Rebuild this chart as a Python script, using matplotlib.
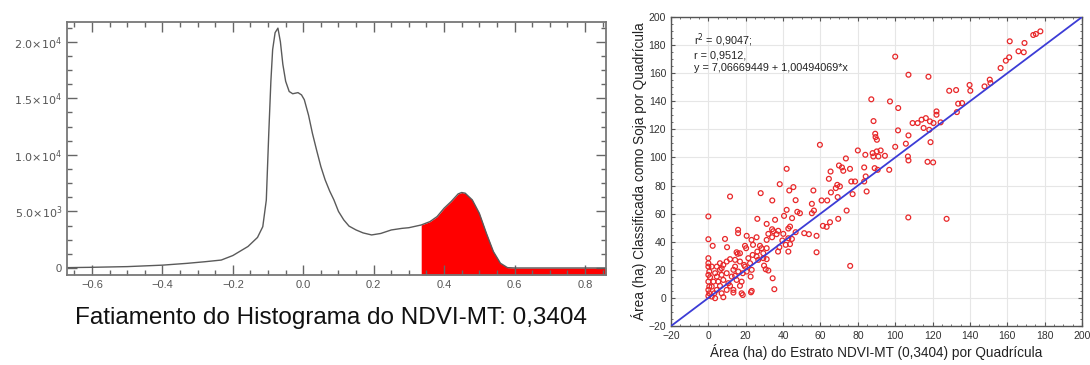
import numpy as np
import matplotlib
matplotlib.use("Agg")
import matplotlib.pyplot as plt
from matplotlib.ticker import MultipleLocator

plt.rcParams['font.family'] = ['Liberation Sans', 'DejaVu Sans']

# histogram of NDVI-MT
hist_x = [-0.67, -0.6, -0.5, -0.4, -0.33, -0.28, -0.233, -0.2, -0.157, -0.13,
          -0.115, -0.105, -0.098, -0.092, -0.087, -0.08, -0.072, -0.065, -0.058, -0.05,
          -0.04, -0.03, -0.015, -0.005, 0.003, 0.015, 0.026, 0.038, 0.05, 0.062,
          0.075, 0.087, 0.1, 0.115, 0.13, 0.15, 0.17, 0.194, 0.22, 0.25,
          0.28, 0.3, 0.335, 0.36, 0.38, 0.4, 0.42, 0.44, 0.45, 0.46,
          0.48, 0.5, 0.52, 0.54, 0.56, 0.58, 0.6, 0.7, 0.8, 0.86]
hist_counts = [30, 60, 120, 250, 410, 550, 700, 1100, 1900, 2700,
               3650, 6000, 11900, 16500, 19300, 20800, 21200, 20000, 18000, 16500,
               15600, 15400, 15500, 15300, 14870, 13500, 11900, 10400, 8960, 7800,
               6800, 6020, 5000, 4250, 3700, 3360, 3100, 2920, 3050, 3360,
               3500, 3560, 3800, 4100, 4540, 5280, 5870, 6550, 6670, 6610,
               6020, 4840, 3080, 1450, 420, 30, 0, 0, 0, 0]
threshold = 0.335
hist_xticks = [-0.6, -0.4, -0.2, 0.0, 0.2, 0.4, 0.6, 0.8]
hist_yticks = [0, 5000, 10000, 15000, 20000]
hist_ylabels = ['0', r'$5.0{\times}10^3$', r'$1.0{\times}10^4$', r'$1.5{\times}10^4$', r'$2.0{\times}10^4$']

# scatter: area stratum (x) vs area classified as soy (y)
area_x = [177.7, 175.3, 173.9, 169.2, 161.3, 166.0, 168.8, 161.0, 159.2, 156.4,
          100.0, 107.1, 117.8, 139.8, 140.2, 150.6, 151.0, 147.8, 132.6, 128.9,
          133.7, 135.8, 133.0, 87.2, 97.2, 101.6, 122.1, 122.1, 116.4, 114.1,
          112.0, 109.3, 118.6, 120.5, 124.3, 115.2, 118.2, 88.4, 101.5, 107.1,
          89.3, 89.5, 90.2, 59.7, 80.0, 100.0, 105.7, 118.9, 87.9, 90.1,
          92.2, 88.3, 91.0, 94.5, 106.8, 107.1, 117.3, 120.3, 84.0, 73.6,
          69.9, 71.5, 75.8, 72.2, 89.0, 90.6, 96.8, 41.9, 83.4, 84.2,
          65.4, 64.5, 76.5, 78.5, 83.4, 69.0, 70.4, 68.2, 84.7, 65.6,
          56.2, 69.2, 77.2, 45.5, 43.3, 38.2, 28.0, 11.6, 34.2, 46.7,
          60.6, 63.6, 55.4, 56.5, 55.4, 47.6, 49.0, 41.9, 40.5, 44.8,
          74.0, 107.0, 127.5, 69.5, 65.1, 61.3, 63.3, 57.9, 53.8, 51.3,
          46.7, 40.1, 26.2, 35.7, 31.2, 34.1, 34.8, 37.4, 43.7, 42.8,
          36.5, 32.1, 34.1, 39.6, 42.8, 44.7, 41.4, 43.7, 38.0, 42.8,
          37.3, 31.2, 31.2, 57.9, 75.9, 34.4, 35.3, 0.0, 0.0, 2.3,
          8.9, 10.0, 15.9, 15.9, 20.5, 25.8, 23.1, 23.9, 19.6, 20.2,
          15.1, 16.9, 27.6, 28.5, 26.2, 29.4, 23.7, 25.8, 21.4, 29.4,
          26.7, 31.2, 29.8, 30.7, 32.1, 22.3, 19.6, 23.2, 22.6, 16.9,
          14.3, 11.6, 9.8, 6.2, 0.0, 0.0, 0.0, 0.5, 0.0, 0.9,
          0.0, 0.5, 0.0, 0.5, 0.0, 1.8, 3.2, 3.6, 4.5, 6.2,
          7.1, 8.0, 5.3, 6.2, 4.5, 7.1, 8.0, 3.6, 9.8, 10.7,
          12.5, 14.3, 16.0, 16.9, 17.8, 13.4, 13.4, 17.8, 18.4, 23.2,
          22.8, 11.6, 9.8, 7.1, 8.0, 13.4, 18.4, 20.5, 1.8, 2.7,
          1.8, 4.5, 15.1, 19.1, 14.3, 15.7]
area_y = [189.8, 187.9, 187.2, 181.5, 182.7, 175.6, 174.9, 171.3, 168.9, 163.7,
          171.8, 158.9, 157.5, 151.6, 147.5, 155.4, 153.0, 150.6, 148.0, 147.5,
          138.3, 138.7, 132.3, 141.4, 139.9, 135.2, 132.8, 130.4, 128.0, 126.9,
          124.5, 124.5, 125.7, 124.5, 125.0, 121.0, 119.7, 125.9, 119.3, 115.7,
          116.9, 114.5, 112.6, 109.0, 105.0, 107.6, 109.8, 110.9, 103.1, 104.3,
          105.0, 100.7, 100.7, 101.2, 100.7, 97.9, 96.9, 96.5, 101.9, 99.3,
          94.3, 92.9, 91.9, 90.5, 92.4, 91.2, 91.2, 91.9, 92.9, 86.5,
          90.0, 84.8, 82.9, 82.9, 82.9, 80.5, 79.4, 78.2, 75.8, 75.1,
          76.5, 71.8, 73.9, 78.9, 76.5, 81.0, 74.6, 72.2, 69.4, 69.6,
          69.4, 69.4, 67.0, 62.2, 60.3, 61.3, 60.3, 62.7, 58.4, 56.8,
          62.2, 57.3, 56.3, 56.3, 53.9, 51.3, 50.6, 44.2, 45.4, 46.1,
          46.8, 45.6, 56.3, 55.6, 52.7, 48.9, 47.5, 47.8, 50.8, 49.4,
          45.4, 45.6, 43.2, 40.9, 42.5, 42.0, 37.8, 38.3, 36.1, 33.0,
          33.0, 41.3, 35.4, 32.5, 22.8, 14.0, 6.2, 58.0, 41.8, 37.1,
          42.0, 36.1, 48.5, 46.1, 44.2, 43.2, 41.3, 37.8, 37.1, 35.4,
          32.5, 31.8, 37.1, 35.4, 33.0, 31.8, 30.6, 29.5, 28.3, 28.3,
          27.1, 27.6, 23.0, 20.4, 19.5, 24.7, 22.3, 20.0, 15.2, 25.9,
          27.1, 27.6, 25.9, 24.7, 28.3, 24.7, 22.3, 18.8, 16.4, 14.7,
          11.6, 8.1, 5.7, 3.3, 1.4, 1.0, 3.3, 17.6, 22.3, 20.0,
          16.4, 12.8, 11.6, 8.6, 5.7, 3.3, 0.5, -0.2, 5.7, 10.5,
          15.2, 15.7, 18.8, 8.6, 11.6, 5.7, 3.8, 3.3, 2.1, 5.0,
          4.0, 8.6, 17.6, 21.1, 23.5, 20.0, 17.6, 18.8, 22.3, 11.6,
          8.1, 15.2, 12.8, 23.5, 22.3, 31.4]
scatter_ticks = [-20, 0, 20, 40, 60, 80, 100, 120, 140, 160, 180, 200]
stats_text = "r$^2$ = 0,9047;\nr = 0,9512,\ny = 7,06669449 + 1,00494069*x"

fig = plt.figure(figsize=(10.9, 3.65), dpi=100)

# ---- left: histogram slice ----
ax1 = fig.add_axes([0.0615, 0.2466, 0.4945, 0.6918])
hx = np.array(hist_x)
hc = np.array(hist_counts)
ymin = -620
ax1.fill_between(hx, ymin, hc, where=hx >= threshold, color='#ff0000', linewidth=0)
ax1.plot(hx, hc, color='#5a5a5a', lw=1.0)
ax1.set_xlim(-0.671, 0.86)
ax1.set_ylim(ymin, 21700)
ax1.set_xticks(hist_xticks)
ax1.set_xticklabels(['\u22120.6', '\u22120.4', '\u22120.2', '0.0', '0.2', '0.4', '0.6', '0.8'])
ax1.set_yticks(hist_yticks)
ax1.set_yticklabels(hist_ylabels)
ax1.xaxis.set_minor_locator(MultipleLocator(0.05))
ax1.yaxis.set_minor_locator(MultipleLocator(1250))
ax1.tick_params(which='both', direction='in', top=True, right=True, colors='#666666',
                labelcolor='#555555', labelsize=8)
ax1.tick_params(which='major', length=7, width=1)
ax1.tick_params(which='minor', length=3.5, width=1)
for s in ax1.spines.values():
    s.set_color('#777777')
    s.set_linewidth(1.3)

fig.text(331 / 1090, 1 - 318 / 365, 'Fatiamento do Histograma do NDVI-MT: 0,3404',
         ha='center', va='center', fontsize=17.5, color='#111111')

# ---- right: scatter ----
ax2 = fig.add_axes([0.6156, 0.1068, 0.3771, 0.8466])
ax2.grid(True, color='#e6e6e6', lw=0.8)
ax2.set_axisbelow(True)
ax2.scatter(area_x, area_y, s=12, facecolors='none', edgecolors='#e8282a', linewidths=0.9, zorder=3)
ax2.plot([-20, 200], [-20, 200], color='#3c3cd6', lw=1.3, zorder=4)
ax2.set_xlim(-20, 200)
ax2.set_ylim(-20, 200)
ax2.set_xticks(scatter_ticks)
ax2.set_yticks(scatter_ticks)
ax2.xaxis.set_minor_locator(MultipleLocator(5))
ax2.yaxis.set_minor_locator(MultipleLocator(5))
ax2.tick_params(which='both', direction='in', top=True, right=True, colors='#555555',
                labelcolor='#333333', labelsize=7.5)
ax2.tick_params(which='major', length=3)
ax2.tick_params(which='minor', length=1.5)
for s in ax2.spines.values():
    s.set_color('#555555')
    s.set_linewidth(1.0)
ax2.set_xlabel('Área (ha) do Estrato NDVI-MT (0,3404) por Quadrícula', fontsize=9.8, color='#222222', labelpad=2)
ax2.set_ylabel('Área (ha) Classificada como Soja por Quadrícula', fontsize=9.8, color='#222222', labelpad=1)
ax2.text(0.056, 0.955, stats_text, transform=ax2.transAxes, ha='left', va='top',
         fontsize=7.8, color='#222222', linespacing=1.25)

fig.savefig('out.png', dpi=100)
